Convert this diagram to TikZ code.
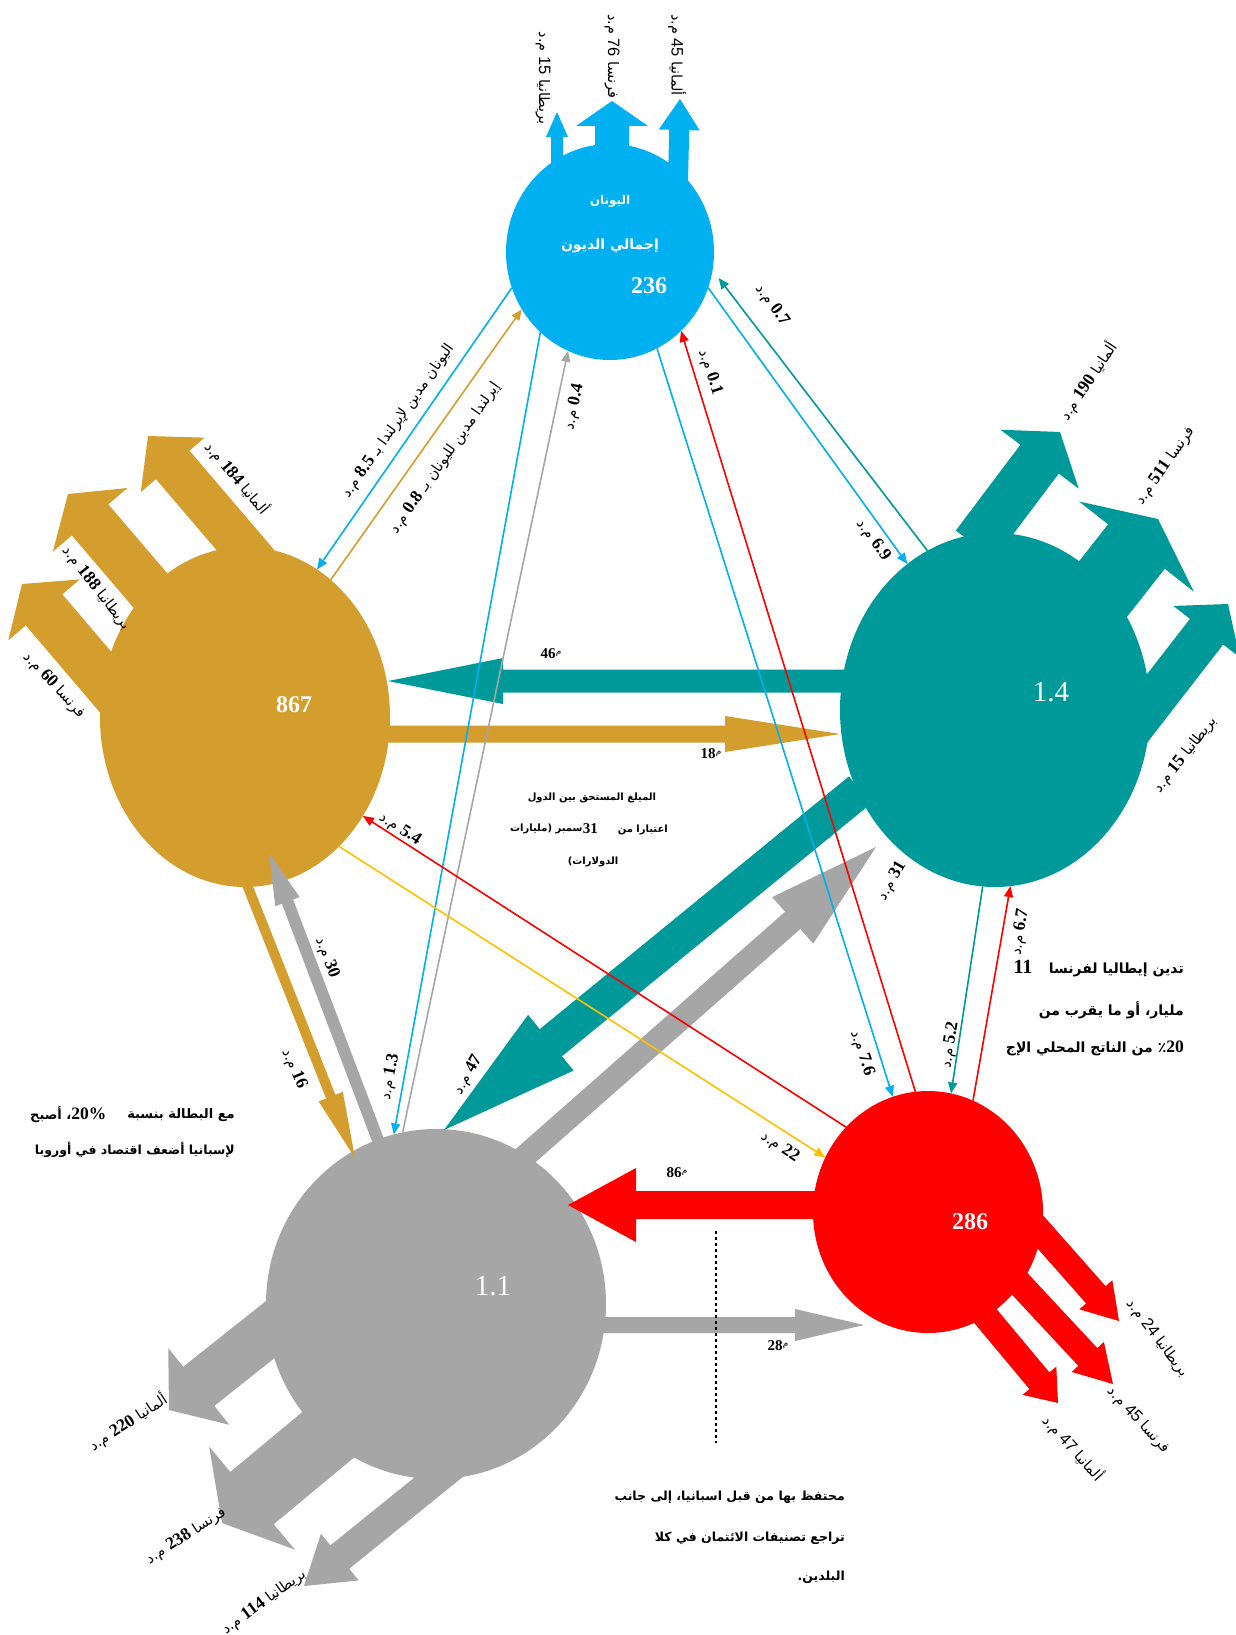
\documentclass[tikz,border=0pt]{standalone}
\usepackage{fontspec}
\usetikzlibrary{calc,arrows.meta,shapes.geometric}
\TeXXeTstate=1
\newfontfamily\arf[Script=Arabic]{DejaVu Sans}
\newfontfamily\numf{Liberation Serif}
\newfontfamily\snf{Liberation Sans}
\definecolor{cgre}{HTML}{00B0F0}
\definecolor{cire}{HTML}{D49E2E}
\definecolor{cita}{HTML}{009999}
\definecolor{cspa}{HTML}{A6A6A6}
\definecolor{cpor}{HTML}{FF0000}
\definecolor{cyel}{HTML}{FFC000}
\newcommand\nm[1]{{\numf\bfseries\fontsize{17.5}{19}\selectfont #1}}
\newcommand\nms[1]{{\snf\fontsize{16.5}{18}\selectfont #1}}
\newcommand\AR[1]{\beginR #1\endR}
% fat arrow: colour, start, tip, shaft half width, head half width, head length
\newcommand\fatarr[6]{%
  \coordinate (fa-s) at #2; \coordinate (fa-t) at #3;
  \coordinate (fa-b) at ($(fa-t)!#6!(fa-s)$);
  \fill[#1] ($(fa-s)!#4!90:(fa-t)$) -- ($(fa-b)!#4!-90:(fa-s)$) -- ($(fa-b)!#5!-90:(fa-s)$)
    -- (fa-t) -- ($(fa-b)!#5!90:(fa-s)$) -- ($(fa-b)!#4!90:(fa-s)$) -- ($(fa-s)!#4!-90:(fa-t)$) -- cycle;}
\begin{document}
\begin{tikzpicture}[x=1pt,y=-1pt,
  tln/.style={line width=1.6pt,-{Triangle[length=11pt,width=9pt]}},
  circ/.style={ellipse,inner sep=0pt,outer sep=0pt},
  lab/.style={inner sep=0pt,font=\arf\fontsize{14.5}{16}\selectfont},
  blk/.style={inner sep=0pt,font=\arf\bfseries\fontsize{14}{16}\selectfont},
  cblk/.style={inner sep=0pt,font=\arf\bfseries\fontsize{10}{12}\selectfont},
  cnum/.style={inner sep=0pt,text=white,font=\numf\bfseries\fontsize{24}{26}\selectfont},
  cnumr/.style={inner sep=0pt,text=white,font=\numf\fontsize{29}{31}\selectfont},
  bnum/.style={inner sep=0pt,font=\numf\bfseries\fontsize{15}{17}\selectfont},
  mim/.style={inner sep=0pt,font=\arf\fontsize{9}{9}\selectfont}]
\useasboundingbox (0,0) rectangle (1235,1635);
\fill[white] (0,0) rectangle (1235,1635);

% circles
\node[circ,fill=cgre,minimum width=208pt,minimum height=216pt] (gre) at (610,252) {};
\node[circ,fill=cire,minimum width=290pt,minimum height=340pt] (ire) at (245,717) {};
\node[circ,fill=cita,minimum width=310pt,minimum height=354pt] (ita) at (995,710) {};
\node[circ,fill=cspa,minimum width=340pt,minimum height=350pt] (spa) at (436,1304) {};
\node[circ,fill=cpor,minimum width=230pt,minimum height=242pt] (por) at (928,1212) {};

% coordinates of the fat arrows
\coordinate (ti-s) at (870,681);  \coordinate (ti-t) at (388,681);
\coordinate (it-s) at (375,734);  \coordinate (it-t) at (840,734);
\coordinate (ts-s) at (860,790);  \coordinate (ts-t) at (444,1130);
\coordinate (st-s) at (515,1165); \coordinate (st-t) at (876,847);
\coordinate (ps-s) at (840,1205); \coordinate (ps-t) at (568,1205);
\coordinate (sp-s) at (590,1325); \coordinate (sp-t) at (864,1325);
\coordinate (is-s) at (242,872);  \coordinate (is-t) at (355,1158);
\coordinate (si-s) at (378,1140); \coordinate (si-t) at (269,853);

\fatarr{cita}{(ti-s)}{(ti-t)}{11.5pt}{23pt}{115pt}
\fatarr{cire}{(it-s)}{(it-t)}{8.5pt}{18pt}{115pt}
\fatarr{cspa}{(st-s)}{(st-t)}{11.5pt}{31pt}{111pt}
\fatarr{cita}{(ts-s)}{(ts-t)}{17.5pt}{36pt}{138pt}
\fatarr{cpor}{(ps-s)}{(ps-t)}{14pt}{37pt}{68pt}
\fatarr{cspa}{(sp-s)}{(sp-t)}{8pt}{16pt}{69pt}
\fatarr{cire}{(is-s)}{(is-t)}{5pt}{13pt}{66pt}
\fatarr{cspa}{(si-s)}{(si-t)}{6pt}{13pt}{52pt}

% outgoing arrows
\coordinate (g1s) at (557,200); \coordinate (g1t) at (557,112);
\coordinate (g2s) at (612,200); \coordinate (g2t) at (612,101);
\coordinate (g3s) at (677,220); \coordinate (g3t) at (680,99);
\fatarr{cgre}{(g1s)}{(g1t)}{6pt}{11pt}{25pt}
\fatarr{cgre}{(g2s)}{(g2t)}{17pt}{36pt}{25pt}
\fatarr{cgre}{(g3s)}{(g3t)}{10pt}{20.5pt}{31pt}

\coordinate (t1s) at (975,545);  \coordinate (t1t) at (1060,432);
\coordinate (t2s) at (1034,677); \coordinate (t2t) at (1158,519);
\coordinate (t3s) at (1118,746); \coordinate (t3t) at (1228,604);
\fatarr{cita}{(t1s)}{(t1t)}{24pt}{49pt}{34pt}
\fatarr{cita}{(t2s)}{(t2t)}{36pt}{73pt}{35pt}
\fatarr{cita}{(t3s)}{(t3t)}{21pt}{42pt}{35pt}

\coordinate (i1s) at (265,573); \coordinate (i1t) at (148,436);
\coordinate (i2s) at (185,631); \coordinate (i2t) at (68,494);
\coordinate (i3s) at (126,706); \coordinate (i3t) at (22,584);
\fatarr{cire}{(i1s)}{(i1t)}{22pt}{42pt}{38pt}
\fatarr{cire}{(i2s)}{(i2t)}{24pt}{49pt}{34pt}
\fatarr{cire}{(i3s)}{(i3t)}{24pt}{47pt}{34pt}

\coordinate (s1s) at (325,1286); \coordinate (s1t) at (169,1410);
\coordinate (s2s) at (376,1395); \coordinate (s2t) at (222,1523);
\coordinate (s3s) at (476,1447); \coordinate (s3t) at (304,1586);
\fatarr{cspa}{(s1s)}{(s1t)}{25pt}{49pt}{38pt}
\fatarr{cspa}{(s2s)}{(s2t)}{34pt}{67pt}{39pt}
\fatarr{cspa}{(s3s)}{(s3t)}{15pt}{30pt}{46pt}

\coordinate (p1s) at (1013,1201); \coordinate (p1t) at (1119,1321);
\coordinate (p2s) at (991,1253);  \coordinate (p2t) at (1113,1384);
\coordinate (p3s) at (962,1288);  \coordinate (p3t) at (1058,1403);
\fatarr{cpor}{(p1s)}{(p1t)}{13pt}{22pt}{35pt}
\fatarr{cpor}{(p2s)}{(p2t)}{13pt}{22pt}{37pt}
\fatarr{cpor}{(p3s)}{(p3t)}{13pt}{22pt}{29pt}

% thin connectors
\draw[tln,cgre] (gre.200) -- (ire.64);
\draw[tln,cire] (ire.58) -- (gre.213);
\draw[tln,cgre] (gre.229) -- (spa.104);
\draw[tln,cspa] (spa.101) -- (gre.247);
\draw[tln,cgre] (gre.296) -- (por.107);
\draw[tln,cpor] (por.96) -- (gre.312);
\draw[tln,cgre] (gre.340) -- (ita.121);
\draw[tln,cita,shorten >=10pt] (ita.113) -- (gre.350);
\draw[tln,cyel] (ire.306) -- (por.152);
\draw[tln,cpor] (por.134) -- (ire.320);
\draw[tln,cita] (ita.266) -- (por.79);
\draw[tln,cpor] (por.68) -- (ita.275);

% dashed marker
\coordinate (dsh1) at (716,1231); \coordinate (dsh2) at (716,1443);
\draw[dashed,line width=1.2pt] (dsh1) -- (dsh2);

% texts in circles
\node[inner sep=0pt,text=white,font=\arf\bfseries\fontsize{12}{14}\selectfont] (gt1) at (610,201) {\AR{اليونان}};
\node[inner sep=0pt,text=white,font=\arf\bfseries\fontsize{14}{16}\selectfont] (gt2) at (610,246) {\AR{إجمالي الديون}};
\node[cnum] (gv) at (649,286) {236};
\node[cnum] (iv) at (294,705) {867};
\node[cnumr] (tv) at (1051,692) {1.4};
\node[cnumr] (sv) at (493,1286) {1.1};
\node[cnum] (pv) at (970,1222) {286};

% labels of outgoing arrows
\node[lab,rotate=-90] (lg1) at (677,55) {\AR{ألمانيا \nms{45} م.د}};
\node[lab,rotate=-90] (lg2) at (612,56) {\AR{فرنسا \nms{76} م.د}};
\node[lab,rotate=-90] (lg3) at (543,78) {\AR{بريطانيا \nms{15} م.د}};
\node[lab,rotate=-50] (li1) at (237,478) {\AR{ألمانيا \nm{184} م.د}};
\node[lab,rotate=-52] (li2) at (96,588) {\AR{بريطانيا \nm{188} م.د}};
\node[lab,rotate=-47] (li3) at (54,685) {\AR{فرنسا \nm{60} م.د}};
\node[lab,rotate=56] (lt1) at (1088,381) {\AR{ألمانيا \nm{190} م.د}};
\node[lab,rotate=55] (lt2) at (1165,466) {\AR{فرنسا \nm{511} م.د}};
\node[lab,rotate=52] (lt3) at (1185,755) {\AR{بريطانيا \nm{15} م.د}};
\node[lab,rotate=33] (ls1) at (128,1422) {\AR{ألمانيا \nm{220} م.د}};
\node[lab,rotate=33] (ls2) at (186,1536) {\AR{فرنسا \nm{238} م.د}};
\node[lab,rotate=36] (ls3) at (264,1602) {\AR{بريطانيا \nm{114} م.د}};
\node[lab,rotate=-53] (lp1) at (1157,1338) {\AR{بريطانيا \nms{24} م.د}};
\node[lab,rotate=-47] (lp2) at (1138,1420) {\AR{فرنسا \nms{45} م.د}};
\node[lab,rotate=-48] (lp3) at (1073,1448) {\AR{ألمانيا \nms{47} م.د}};

% labels of connectors
\node[lab,rotate=55] (c1) at (398,421) {\AR{اليونان مدين لإيرلندا بـ \nm{8.5} م.د}};
\node[lab,rotate=55] (c2) at (445,458) {\AR{إيرلندا مدين لليونان بـ \nm{0.8} م.د}};
\node[lab,rotate=79] (c3) at (390,1077) {\AR{\nm{1.3} م.د}};
\node[lab,rotate=78] (c4) at (574,407) {\AR{\nm{0.4} م.د}};
\node[lab,rotate=-72] (c5) at (862,1053) {\AR{\nm{7.6} م.د}};
\node[lab,rotate=-72] (c6) at (710,372) {\AR{\nm{0.1} م.د}};
\node[lab,rotate=-54] (c7) at (873,540) {\AR{\nm{6.9} م.د}};
\node[lab,rotate=-54] (c8) at (772,305) {\AR{\nm{0.7} م.د}};
\node[lab,rotate=-33] (c9) at (780,1147) {\AR{\nm{22} م.د}};
\node[lab,rotate=-33] (c10) at (400,829) {\AR{\nm{5.4} م.د}};
\node[lab,rotate=81] (c11) at (950,1045) {\AR{\nm{5.2} م.د}};
\node[lab,rotate=81] (c12) at (1020,932) {\AR{\nm{6.7} م.د}};
\node[lab,rotate=-70] (c13) at (327,958) {\AR{\nm{30} م.د}};
\node[lab,rotate=-67] (c14) at (294,1069) {\AR{\nm{16} م.د}};
\node[lab,rotate=60] (c15) at (468,1075) {\AR{\nm{47} م.د}};
\node[lab,rotate=60] (c16) at (892,881) {\AR{\nm{31} م.د}};

% labels of the horizontal arrows
\node[bnum] (h1) at (548,654) {46};
\node[mim,anchor=west] (h1m) at (h1.east) {م};
\node[bnum] (h2) at (708,754) {18};
\node[mim,anchor=west] (h2m) at (h2.east) {م};
\node[bnum] (h3) at (674,1173) {86};
\node[mim,anchor=west] (h3m) at (h3.east) {م};
\node[bnum] (h4) at (775,1346) {28};
\node[mim,anchor=west] (h4m) at (h4.east) {م};

% centre note
\node[cblk] (n1) at (592,798) {\AR{الميلغ المستحق بين الدول}};
\node[cblk,anchor=east] (n2a) at (668,830) {\AR{اعتبارا من}};
\node[bnum,anchor=east] (n2c) at (598,829) {31};
\node[cblk,anchor=east] (n2b) at (n2c.west) {\AR{سمبر (مليارات}};
\node[cblk] (n3) at (593,862) {\AR{الدولارات)}};

% Italy note
\node[blk,anchor=east] (it1) at (1184,970) {\AR{تدين إيطاليا لفرنسا}};
\node[inner sep=0pt,font=\numf\bfseries\fontsize{20}{22}\selectfont] (it0) at (1023,967) {11};
\node[blk,anchor=east] (it2) at (1184,1010) {\AR{مليار، أو ما يقرب من}};
\node[blk,anchor=east] (it3) at (1184,1048) {\AR{\nm{20}٪ من الناتج المحلي الإج}};

% Spain note
\node[blk,font=\arf\bfseries\fontsize{13}{15}\selectfont,anchor=east] (sn1) at (235,1115) {\AR{مع البطالة بنسبة}};
\node[blk,font=\arf\bfseries\fontsize{13}{15}\selectfont,anchor=west] (sn0) at (30,1115) {\AR{\nm{20\%}، أصبح}};
\node[blk,font=\arf\bfseries\fontsize{12.5}{15}\selectfont,anchor=east] (sn2) at (235,1150) {\AR{لإسبانيا أضعف اقتصاد في أوروبا}};

% bottom note
\node[blk,font=\arf\bfseries\fontsize{12.5}{15}\selectfont,anchor=east] (bn1) at (845,1497) {\AR{محتفظ بها من قبل اسبانيا، إلى جانب}};
\node[blk,font=\arf\bfseries\fontsize{12.5}{15}\selectfont,anchor=east] (bn2) at (845,1538) {\AR{تراجع تصنيفات الائتمان في كلا}};
\node[blk,font=\arf\bfseries\fontsize{12.5}{15}\selectfont,anchor=east] (bn3) at (845,1577) {\AR{البلدين.}};
\end{tikzpicture}
\end{document}
